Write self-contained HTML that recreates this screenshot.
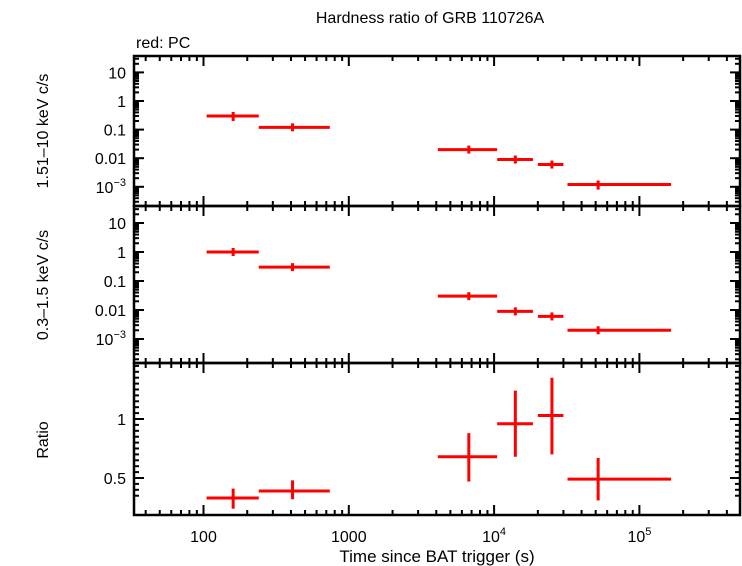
<!DOCTYPE html>
<html><head><meta charset="utf-8"><style>
body{margin:0;background:#fff;}
svg{display:block;font-family:"Liberation Sans",sans-serif;}
</style></head><body>
<svg id="c" width="742" height="566"></svg>
<script>
const binLo=[105,240,4100,10500,20000,32000];
const binHi=[240,740,10500,18500,30000,165000];
const binMid=[160,410,6700,14000,25000,52000];
const hardVal=[0.3,0.12,0.02,0.009,0.006,0.0012];
const hardErr=[0.1,0.025,0.005,0.0025,0.0015,0.0004];
const softVal=[1.0,0.3,0.03,0.009,0.006,0.002];
const softErr=[0.2,0.04,0.007,0.0025,0.0015,0.0003];
const ratioVal=[0.33,0.39,0.68,0.96,1.03,0.49];
const ratioLo=[0.24,0.32,0.47,0.68,0.70,0.31];
const ratioHi=[0.41,0.48,0.88,1.24,1.35,0.67];
const xTickVals=[100,1000,10000,100000];
const xTickLabels=["100","1000","10^4","10^5"];
const logTickVals=[10,1,0.1,0.01,0.001];
const logTickLabels=["10","1","0.1","0.01","10^-3"];
const ratioTickVals=[0.5,1];
const ratioTickLabels=["0.5","1"];

const NS="http://www.w3.org/2000/svg";
const svg=document.getElementById('c');
const L=134,R=740;
const X=v=>203.5+145.3*(Math.log10(v)-2);
const xmin=Math.pow(10,2+(L-203.5)/145.3), xmax=Math.pow(10,2+(R-203.5)/145.3);
function el(t,a,p){const e=document.createElementNS(NS,t);for(const k in a)e.setAttribute(k,a[k]);(p||svg).appendChild(e);return e;}
function line(x1,y1,x2,y2,c,w){return el('line',{x1,y1,x2,y2,stroke:c,'stroke-width':w});}
function txt(x,y,s,anchor,size){
  const t=el('text',{x,y,'text-anchor':anchor,'font-size':size||16,fill:'#000'});
  const m=s.match(/^10\^(.+)$/);
  if(m){t.textContent='10';const ts=el('tspan',{dy:-7,'font-size':11},t);ts.textContent=m[1].replace('-','\u2212');}
  else t.textContent=s;
  return t;
}
const panels=[
 {top:56,bot:206,type:'log',Y:v=>101-28.6*Math.log10(v),vals:hardVal,errs:hardErr,name:'hard-band-panel'},
 {top:206,bot:363,type:'log',Y:v=>252-29*Math.log10(v),vals:softVal,errs:softErr,name:'soft-band-panel'},
 {top:363,bot:515,type:'lin',Y:v=>537-118*v,name:'ratio-panel'}
];
panels.forEach((p,pi)=>{
  for(let d=1;d<=5;d++)for(let m=1;m<10;m++){const v=m*Math.pow(10,d);if(v<xmin||v>xmax)continue;const x=X(v);const len=m==1?10:5;
    line(x,p.top,x,p.top+len,'#000',2);line(x,p.bot,x,p.bot-len,'#000',2);}
  if(p.type=='log'){
    for(let d=-4;d<=1;d++)for(let m=1;m<10;m++){const v=m*Math.pow(10,d);const y=p.Y(v);if(y<p.top+1||y>p.bot-1)continue;const len=m==1?10:5;
      line(L,y,L+len,y,'#000',2);line(R,y,R-len,y,'#000',2);}
    logTickVals.forEach((v,i)=>txt(L-8,p.Y(v)+6,logTickLabels[i],'end',16));
  } else {
    for(let v=0.35;v<1.5;v+=0.05){const y=p.Y(v);if(y<p.top+1||y>p.bot-1)continue;const major=Math.abs(v*2-Math.round(v*2))<1e-6;const len=major?10:5;
      line(L,y,L+len,y,'#000',2);line(R,y,R-len,y,'#000',2);}
    ratioTickVals.forEach((v,i)=>txt(L-8,p.Y(v)+6,ratioTickLabels[i],'end',16));
  }
  const fr=el('rect',{x:L,y:p.top,width:R-L,height:p.bot-p.top,fill:'none',stroke:'#000','stroke-width':2.5});
  
  
  for(let i=0;i<binMid.length;i++){
    let y,y1,y2;
    if(p.type=='log'){y=p.Y(p.vals[i]);y1=p.Y(p.vals[i]-p.errs[i]);y2=p.Y(p.vals[i]+p.errs[i]);
      y1=Math.max(y1,y+4);y2=Math.min(y2,y-4);}
    else{y=p.Y(ratioVal[i]);y1=p.Y(ratioLo[i]);y2=p.Y(ratioHi[i]);}
    const h=line(X(binLo[i]),y,X(binHi[i]),y,'#f00',3);
    
    
    const v=line(X(binMid[i]),y1,X(binMid[i]),y2,'#f00',3);
    
    
  }
});
xTickVals.forEach((v,i)=>txt(X(v),542,xTickLabels[i],'middle',16));
const t1=txt(430,23,'Hardness ratio of GRB 110726A','middle',16);

const t2=txt(136,48,'red: PC','start',16);

const t3=txt(437,562,'Time since BAT trigger (s)','middle',17);

function ylab(y,s,n){const t=el('text',{x:0,y:0,'text-anchor':'middle','font-size':16,transform:`translate(48,${y}) rotate(-90)`});t.textContent=s;}
ylab(131,'1.51\u201310 keV c/s','hard-y-axis-title');
ylab(285,'0.3\u20131.5 keV c/s','soft-y-axis-title');
ylab(440,'Ratio','ratio-y-axis-title');
</script>
</body></html>
